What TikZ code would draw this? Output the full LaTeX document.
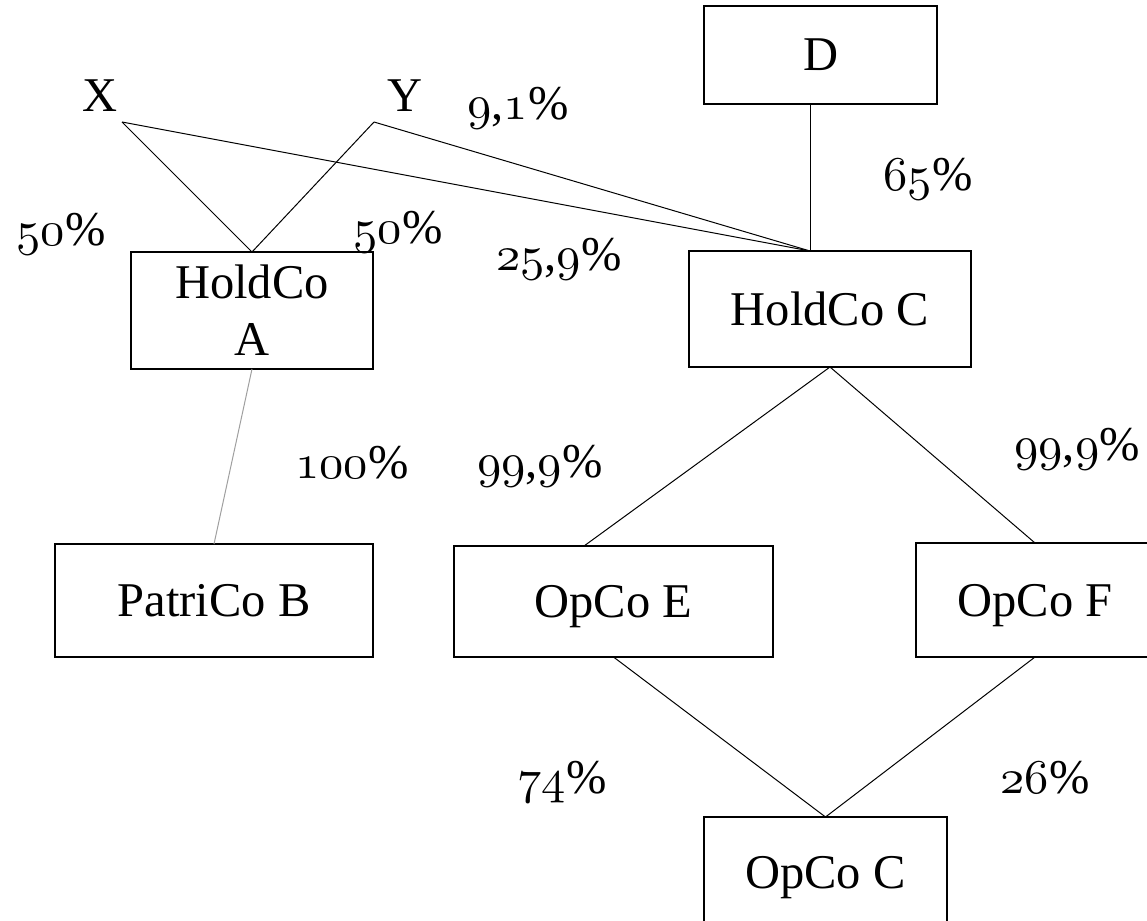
\documentclass[tikz,border=0pt]{standalone}
\usepackage{fontspec}
\setmainfont{Liberation Serif}
\font\osnfont=cmmi10 at 48.5pt
\newcommand\osn[1]{{\osnfont #1}}
\tikzset{
  every node/.style={font=\fontsize{48.5}{57}\selectfont},
  entity/.style={draw, line width=2.2pt, inner sep=0pt, outer sep=0pt, text height=32pt, text depth=0pt},
  entity2/.style={draw, line width=2.2pt, inner sep=0pt, outer sep=0pt, align=center},
  lbl/.style={anchor=base, inner sep=0pt},
  link/.style={line width=1pt, black},
  glink/.style={line width=1pt, gray!75}
}
\begin{document}
\begin{tikzpicture}[x=1pt, y={(0pt,-1pt)}]
\useasboundingbox (0,0) rectangle (1147,920);
% boxes
\node[entity, minimum width=233pt, minimum height=98pt] (D) at (820.5,55) {D};
\node[entity2, minimum width=242pt, minimum height=117pt] (hA) at (252,310.5) {HoldCo\\A};
\node[entity, minimum width=282pt, minimum height=116pt] (hC) at (830,309) {HoldCo C};
\node[entity, minimum width=318pt, minimum height=113pt] (pB) at (214,600.5) {PatriCo B};
\node[entity, minimum width=319pt, minimum height=111pt] (oE) at (613.5,601.5) {OpCo E};
\node[entity, minimum width=238pt, minimum height=114pt] (oF) at (1035,600) {OpCo F};
\node[entity, minimum width=243pt, minimum height=110pt] (oC) at (825.5,872) {OpCo C};
% owners
\node[lbl] (X) at (100,112) {X};
\node[lbl] (Y) at (405,112) {Y};
\coordinate (xp) at (122,122);
\coordinate (yp) at (374,122);
\coordinate (cin) at ([xshift=-20pt]hC.north);
\coordinate (ein) at ([xshift=-29.5pt]oE.north);
% connectors
\draw[link] (xp) -- (hA.north);
\draw[link] (yp) -- (hA.north);
\draw[link] (xp) -- (cin);
\draw[link] (yp) -- (cin);
\draw[link] (D.south -| cin) -- (cin);
\draw[link] (hC.south) -- (ein);
\draw[link] (hC.south) -- (oF.north);
\draw[glink] (hA.south) -- (pB.north);
\draw[link] (oE.south) -- (oC.north);
\draw[link] (oF.south) -- (oC.north);
% percentages
\node[lbl] (p1) at (61,245) {\osn{50}\%};
\node[lbl] (p2) at (398,243) {\osn{50}\%};
\node[lbl] (p3) at (518,120) {\osn{9},\osn{1}\%};
\node[lbl] (p4) at (559,270) {\osn{25},\osn{9}\%};
\node[lbl] (p5) at (928,190) {\osn{65}\%};
\node[lbl] (p6) at (352,478) {\osn{100}\%};
\node[lbl] (p7) at (540,477) {\osn{99},\osn{9}\%};
\node[lbl] (p8) at (1077,460) {\osn{99},\osn{9}\%};
\node[lbl] (p9) at (562,793) {\osn{74}\%};
\node[lbl] (p10) at (1045,793) {\osn{26}\%};
\end{tikzpicture}
\end{document}
